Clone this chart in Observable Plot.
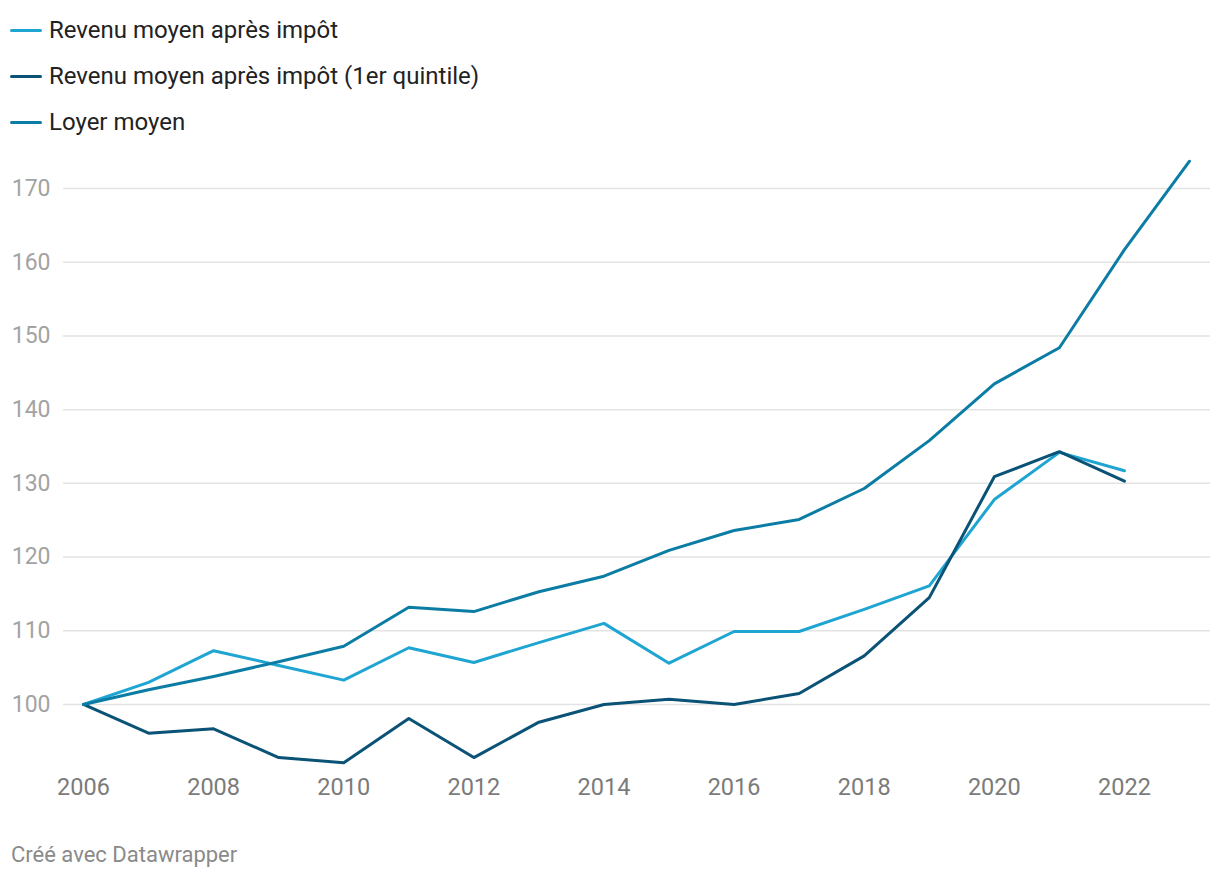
<!DOCTYPE html>
<html>
<head>
<meta charset="utf-8">
<script src="https://cdn.jsdelivr.net/npm/d3@7"></script>
<script src="https://cdn.jsdelivr.net/npm/@observablehq/plot@0.6"></script>
<style>
  html, body { margin: 0; padding: 0; background: #fff; }
  body { width: 1220px; height: 878px; position: relative; font-family: Roboto, sans-serif; overflow: hidden; }
  #legend { position: absolute; left: 10px; top: 7px; }
  .item { display: flex; align-items: center; height: 46px; font-size: 24px; color: #222; }
  .swatch { width: 32px; height: 3px; border-radius: 2px; margin-right: 7px; }
  #chart { position: absolute; left: 0; top: 140px; }
  #caption { position: absolute; left: 11px; top: 842px; font-size: 22px; line-height: 26px; color: #8a8a8a; }
</style>
</head>
<body>
<div id="legend"></div>
<div id="chart"></div>
<div id="caption">Créé avec Datawrapper</div>
<script>
const years = [2006,2007,2008,2009,2010,2011,2012,2013,2014,2015,2016,2017,2018,2019,2020,2021,2022,2023];
const revenuMoyen = [100,103.0,107.3,105.3,103.3,107.7,105.7,108.4,111.0,105.6,109.9,109.9,112.9,116.1,127.8,134.2,131.7,null];
const revenuQuintile = [100,96.1,96.7,92.8,92.1,98.1,92.8,97.6,100.0,100.7,100.0,101.5,106.6,114.5,130.9,134.3,130.3,null];
const loyerMoyen = [100,102.0,103.8,105.8,107.9,113.2,112.6,115.3,117.4,120.9,123.6,125.1,129.3,135.8,143.5,148.4,161.7,173.7];
const seriesNames = ["Revenu moyen après impôt", "Revenu moyen après impôt (1er quintile)", "Loyer moyen"];
const seriesColors = ["#1ea5d2", "#0a5276", "#0b7da5"];
const yTicks = [100,110,120,130,140,150,160,170];
const xTicks = [2006,2008,2010,2012,2014,2016,2018,2020,2022];

const seriesValues = [revenuMoyen, revenuQuintile, loyerMoyen];
const data = [];
seriesValues.forEach((vals, si) => {
  vals.forEach((v, i) => { if (v != null) data.push({year: years[i], value: v, series: seriesNames[si]}); });
});

const legend = document.getElementById("legend");
seriesNames.forEach((n, i) => {
  const d = document.createElement("div");
  d.className = "item";
  d.innerHTML = `<span class="swatch" style="background:${seriesColors[i]}"></span><span>${n}</span>`;
  legend.appendChild(d);
});

const chart = Plot.plot({
  width: 1220,
  height: 700,
  marginTop: 11.14,
  marginBottom: 62.3,
  marginLeft: 63,
  marginRight: 10,
  insetLeft: 20,
  insetRight: 21,
  style: { fontFamily: "Roboto, sans-serif", fontSize: "23px", background: "#fff" },
  x: { domain: [2006, 2023], ticks: xTicks, tickFormat: d => String(d), tickSize: 0, tickPadding: 0, label: null },
  y: { domain: [90, 175], ticks: yTicks, tickSize: 0, tickPadding: 13, label: null },
  color: { domain: seriesNames, range: seriesColors },
  marks: [
    Plot.ruleY(yTicks, { stroke: "#e3e3e3", strokeWidth: 1.5 }),
    Plot.axisY({ ticks: yTicks, tickSize: 0, tickPadding: 13, fill: "#a3a3a3", fontSize: 23, label: null }),
    Plot.axisX({ ticks: xTicks, tickFormat: d => String(d), tickSize: 0, tickPadding: 0, fill: "#7b7b7b", fontSize: 23.5, label: null }),
    Plot.line(data, { x: "year", y: "value", z: "series", stroke: "series", strokeWidth: 3, strokeLinejoin: "round", strokeLinecap: "round" })
  ]
});
document.getElementById("chart").appendChild(chart);
</script>
</body>
</html>
